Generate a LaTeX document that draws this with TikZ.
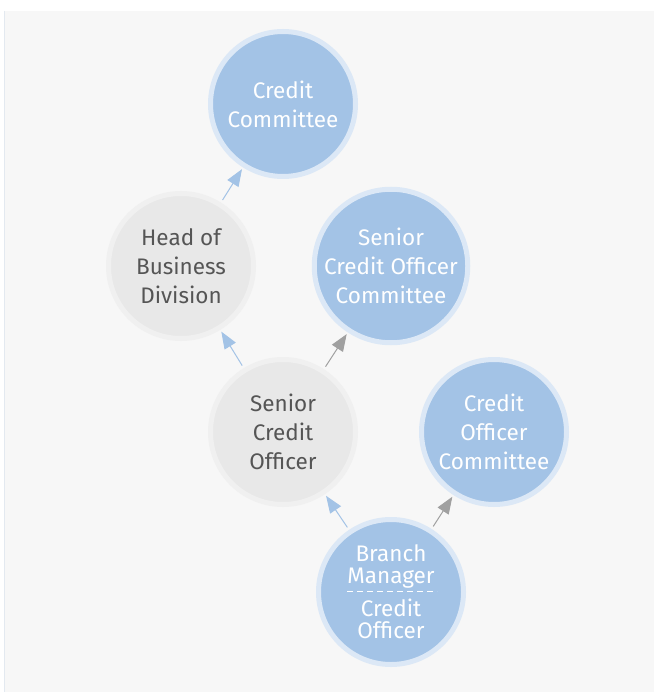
\documentclass[tikz,border=0pt]{standalone}
\usepackage{fontspec}
\setmainfont{Fira Sans}
\usetikzlibrary{arrows.meta}
\definecolor{bgc}{HTML}{F7F7F7}
\definecolor{bfill}{HTML}{A3C3E6}
\definecolor{bring}{HTML}{DCE8F6}
\definecolor{gfill}{HTML}{E8E8E8}
\definecolor{gring}{HTML}{F0F0F0}
\definecolor{gtext}{HTML}{555555}
\definecolor{barr}{HTML}{A3C3E6}
\definecolor{garr}{HTML}{A0A0A0}
\definecolor{edge}{HTML}{E3E9F0}
\tikzset{
  bluec/.style={circle, minimum size=145pt, inner sep=0pt, fill=bfill, draw=bring, line width=5pt, text=white, align=center, font=\fontsize{22.5}{29}\selectfont},
  grayc/.style={circle, minimum size=145pt, inner sep=0pt, fill=gfill, draw=gring, line width=5pt, text=gtext, align=center, font=\fontsize{22.5}{29}\selectfont},
  barrow/.style={draw=barr, line width=1pt, -{Triangle[length=17pt,width=13pt]}, shorten <=3pt, shorten >=2pt},
  garrow/.style={draw=garr, line width=1pt, -{Triangle[length=17pt,width=13pt]}, shorten <=3pt, shorten >=2pt}
}
\begin{document}
\begin{tikzpicture}[x=1pt,y=-1pt]
\useasboundingbox (0,0) rectangle (654,692);
\fill[white] (0,0) rectangle (654,692);
\fill[bgc] (5,11) rectangle (654,692);
\draw[edge, line width=1pt] (4.5,11) -- (4.5,692);
\node[bluec] (cc) at (283,104) {Credit\\Committee};
\node[grayc] (hobd) at (181,266) {Head of\\Business\\Division};
\node[bluec] (scoc) at (391,266) {Senior\\Credit Officer\\Committee};
\node[grayc] (sco) at (283,432) {Senior\\Credit\\Officer};
\node[bluec] (coc) at (494,432) {Credit\\Officer\\Committee};
\node[bluec, font=\fontsize{22.5}{22}\selectfont] (bm) at (391,592) {Branch\\Manager\\[10pt]Credit\\Officer};
\coordinate (dl) at (347,591);
\coordinate (dr) at (437,591);
\draw[white, line width=0.8pt, dash pattern=on 6pt off 4pt] (dl) -- (dr);
\draw[barrow] (hobd) -- (cc);
\draw[barrow] (sco) -- (hobd);
\draw[garrow] (sco) -- (scoc);
\draw[barrow] (bm) -- (sco);
\draw[garrow] (bm) -- (coc);
\end{tikzpicture}
\end{document}
